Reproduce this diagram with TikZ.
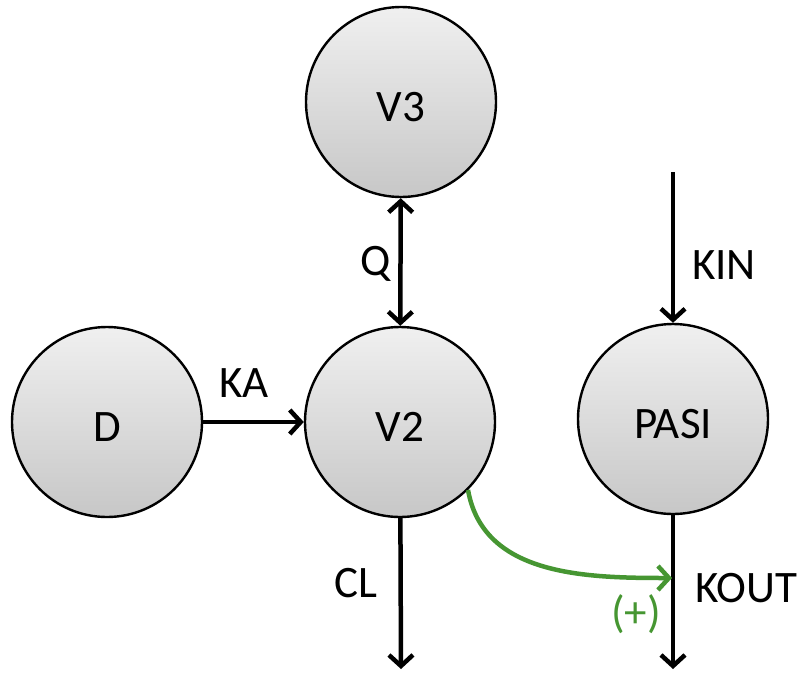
\documentclass[tikz,border=0pt]{standalone}
\usepackage{fontspec}
\setmainfont{Carlito}
\usetikzlibrary{arrows.meta}
\definecolor{grn}{RGB}{70,150,50}
\tikzset{
  comp/.style={circle, draw=black, line width=2.4pt, minimum size=190pt, inner sep=0pt,
    text height=39pt, text depth=0pt,
    top color=black!6, bottom color=black!22, font=\fontsize{45}{54}\selectfont},
  lbl/.style={font=\fontsize{45}{54}\selectfont, inner sep=0pt},
  tipb/.tip={Straight Barb[length=11pt,width=24pt]},
  arr/.style={line width=4.5pt, -tipb},
  darr/.style={line width=4.5pt, tipb-tipb},
  garr/.style={line width=4.5pt, draw=grn, -tipb}
}
\begin{document}
\begin{tikzpicture}[x=1pt,y=-1pt]
\useasboundingbox (0,0) rectangle (805,672);
\node[comp] (V3) at (401,102) {V3};
\node[comp] (D) at (107,422) {D};
\node[comp] (V2) at (400,422) {V2};
\node[comp] (PASI) at (673,419) {PASI};
\coordinate (kin) at (673,172);
\coordinate (clend) at (401,669);
\coordinate (koutend) at (673,669);
\coordinate (kmid) at (672,578);
\draw[darr] (V3) -- (V2);
\draw[arr] (D.east) -- (V2.west);
\draw[arr] (kin) -- (PASI);
\draw[arr] (V2) -- (clend);
\draw[arr] (PASI) -- (koutend);
\draw[garr] (V2.-45) to[out=-80,in=180] (kmid);
\node[lbl] (lQ) at (376,264) {Q};
\node[lbl] (lKA) at (244,383) {KA};
\node[lbl] (lKIN) at (724,265) {KIN};
\node[lbl] (lCL) at (356,583) {CL};
\node[lbl] (lKOUT) at (746,588) {KOUT};
\node[lbl, text=grn] (lplus) at (636,614) {(+)};
\end{tikzpicture}
\end{document}
